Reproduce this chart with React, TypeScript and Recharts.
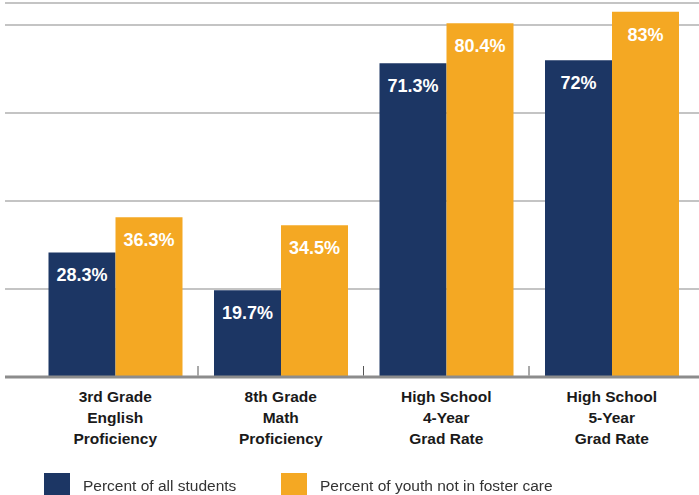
import React from "react";
import {
  BarChart,
  Bar,
  XAxis,
  YAxis,
  CartesianGrid,
  LabelList,
  Legend,
} from "recharts";

const categories = [
  "3rd Grade\nEnglish\nProficiency",
  "8th Grade\nMath\nProficiency",
  "High School\n4-Year\nGrad Rate",
  "High School\n5-Year\nGrad Rate",
];
const allStudents = [28.3, 19.7, 71.3, 72];
const notFoster = [36.3, 34.5, 80.4, 83];
const gridTicks = [0, 20, 40, 60, 80];
const seriesNames = ["Percent of all students", "Percent of youth not in foster care"];

const NAVY = "#1c3664";
const ORANGE = "#f4a823";
const FONT = "'Liberation Sans', Arial, sans-serif";

const data = categories.map((name, i) => ({
  name,
  all: allStudents[i],
  foster: notFoster[i],
}));

// category label plus the small upward tick on the left edge of its band
const CategoryTick = (props: any) => {
  const { x, y, payload, index } = props;
  const lines = String(payload.value).split("\n");
  const half = payload.offset || 0;
  return (
    <g>
      {index > 0 && half > 0 && (
        <line x1={x - half} x2={x - half} y1={y - 11} y2={y - 1.5} stroke="#555" strokeWidth={1} />
      )}
      <text
        x={x}
        y={y}
        textAnchor="middle"
        fill="#1a1a1a"
        fontFamily={FONT}
        fontWeight="bold"
        fontSize={15.5}
      >
        {lines.map((l, i) => (
          <tspan key={i} x={x} dy={i === 0 ? 25 : 21}>
            {l}
          </tspan>
        ))}
      </text>
    </g>
  );
};

const LegendBox = () => (
  <div style={{ position: "relative", width: 699, height: 38, fontFamily: FONT }}>
    {[NAVY, ORANGE].map((c, i) => {
      const left = i === 0 ? 44 : 281;
      return (
        <React.Fragment key={i}>
          <div
            style={{
              position: "absolute",
              left,
              top: 16,
              width: 26,
              height: 22,
              background: c,
            }}
          />
          <div
            style={{
              position: "absolute",
              left: left + 39,
              top: 19,
              fontSize: 15.5,
              lineHeight: "20px",
              color: "#333",
              whiteSpace: "nowrap",
            }}
          >
            {seriesNames[i]}
          </div>
        </React.Fragment>
      );
    })}
  </div>
);

const fmt = (v: any) => `${v}%`;

export default function App() {
  return (
    <div style={{ position: "fixed", left: 0, top: 0, width: 699, height: 495, background: "#fff" }}>
      <BarChart
        width={699}
        height={495}
        data={data}
        margin={{ top: 3, right: 0, left: 5, bottom: 0 }}
        barCategoryGap={16}
        barGap={0}
      >
        <CartesianGrid vertical={false} stroke="#b0b0b0" strokeWidth={1.5} />
        <XAxis
          dataKey="name"
          padding={{ left: 27.5, right: 4.5 }}
          height={80}
          tickSize={0}
          tickMargin={0}
          tickLine={false}
          axisLine={{ stroke: "#8c8c8c", strokeWidth: 3 }}
          tick={<CategoryTick />}
          interval={0}
        />
        <YAxis hide domain={[0, 85]} ticks={gridTicks} />
        <Legend
          verticalAlign="bottom"
          height={38}
          content={<LegendBox />}
          wrapperStyle={{ left: 0, bottom: 0, width: 699, height: 38 }}
        />
        <Bar dataKey="all" fill={NAVY} isAnimationActive={false}>
          <LabelList
            dataKey="all"
            position="insideTop"
            offset={16}
            formatter={fmt}
            fill="#fff"
            fontFamily={FONT}
            fontWeight="bold"
            fontSize={18}
          />
        </Bar>
        <Bar dataKey="foster" fill={ORANGE} isAnimationActive={false}>
          <LabelList
            dataKey="foster"
            position="insideTop"
            offset={16}
            formatter={fmt}
            fill="#fff"
            fontFamily={FONT}
            fontWeight="bold"
            fontSize={18}
          />
        </Bar>
      </BarChart>
    </div>
  );
}
